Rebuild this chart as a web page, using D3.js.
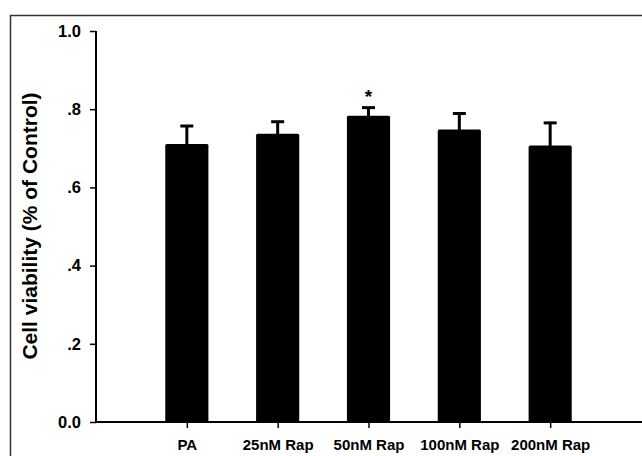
<!DOCTYPE html>
<html>
<head>
<meta charset="utf-8">
<script src="https://cdn.jsdelivr.net/npm/d3@7"></script>
<style>
  body { margin: 0; background: #fff; }
  svg text { font-family: Arial, "Liberation Sans", sans-serif; font-weight: bold; fill: #000; }
</style>
</head>
<body>
<div id="chart"></div>
<script>
// groups, means and error (SEM)
let groups = ["PA", "25nM Rap", "50nM Rap", "100nM Rap", "200nM Rap"];
let means = [0.711, 0.737, 0.783, 0.748, 0.707];
let errors = [0.046, 0.031, 0.021, 0.041, 0.058];
let marks = ["", "", "*", "", ""];
let yTicks = [0, 0.2, 0.4, 0.6, 0.8, 1.0];
let yTickLabels = ["0.0", ".2", ".4", ".6", ".8", "1.0"];

let W = 642, H = 456;
let margin = {top: 31, right: 1, bottom: 34, left: 96};
let width = W - margin.left - margin.right,
    height = H - margin.top - margin.bottom;

let svg = d3.select("#chart")
    .append("svg")
    .attr("width", W)
    .attr("height", H);

// frame around the figure (right and bottom run off the picture)
svg.append("rect")
    .attr("x", 10.5)
    .attr("y", 15.5)
    .attr("width", W + 20)
    .attr("height", H + 20)
    .attr("fill", "none")
    .attr("stroke", "#333")
    .attr("stroke-width", 1.5);

let g = svg.append("g")
    .attr("transform", "translate(" + margin.left + "," + margin.top + ")");

// x positions: one empty slot on each side of the groups
let x = d3.scalePoint()
    .domain(groups)
    .range([0, width])
    .padding(1);
let barW = x.step() * 0.475;

let y = d3.scaleLinear()
    .domain([0, 1])
    .range([height, 0]);

// bars
g.selectAll(".bar")
    .data(groups)
    .enter()
    .append("rect")
    .attr("class", "bar")
    .attr("x", d => x(d) - barW / 2)
    .attr("y", (d, i) => y(means[i]))
    .attr("width", barW)
    .attr("height", (d, i) => height - y(means[i]))
    .attr("rx", 1.5)
    .attr("fill", "#000");

// error bars (upper only)
g.selectAll(".err")
    .data(groups)
    .enter()
    .append("line")
    .attr("x1", d => x(d))
    .attr("x2", d => x(d))
    .attr("y1", (d, i) => y(means[i]) + 2)
    .attr("y2", (d, i) => y(means[i] + errors[i]))
    .attr("stroke", "#000")
    .attr("stroke-width", 3);

g.selectAll(".cap")
    .data(groups)
    .enter()
    .append("line")
    .attr("x1", d => x(d) - 6.5)
    .attr("x2", d => x(d) + 6.5)
    .attr("y1", (d, i) => y(means[i] + errors[i]))
    .attr("y2", (d, i) => y(means[i] + errors[i]))
    .attr("stroke", "#000")
    .attr("stroke-width", 3);

// significance marks
g.selectAll(".sig")
    .data(groups)
    .enter()
    .append("text")
    .attr("x", d => x(d))
    .attr("y", (d, i) => y(means[i] + errors[i]) - 5)
    .attr("text-anchor", "middle")
    .style("font-size", "19px")
    .text((d, i) => marks[i]);

// Y axis
let yAxis = g.append("g")
    .call(d3.axisLeft(y)
        .tickValues(yTicks)
        .tickSize(6)
        .tickPadding(9)
        .tickFormat((d, i) => yTickLabels[i]));
yAxis.select(".domain").attr("stroke", "#000").attr("stroke-width", 2).attr("d", "M0," + height + "V0");
yAxis.selectAll(".tick line").attr("stroke", "#000").attr("stroke-width", 1.5);
yAxis.selectAll(".tick text").style("font-size", "16.5px").style("font-family", "Arial, 'Liberation Sans', sans-serif").style("font-weight", "bold");

// X axis
let xAxis = g.append("g")
    .attr("transform", "translate(0," + height + ")")
    .call(d3.axisBottom(x).tickSize(6).tickPadding(11));
xAxis.select(".domain").attr("stroke", "#000").attr("stroke-width", 2).attr("d", "M0,0H" + (width + 2));
xAxis.selectAll(".tick line").attr("stroke", "#000").attr("stroke-width", 1.5);
xAxis.selectAll(".tick text").style("font-size", "15px").style("font-family", "Arial, 'Liberation Sans', sans-serif").style("font-weight", "bold");

// Y axis label
svg.append("text")
    .attr("transform", "translate(37," + (margin.top + 195) + ") rotate(-90)")
    .attr("text-anchor", "middle")
    .style("font-size", "21px")
    .text("Cell viability (% of Control)");
</script>
</body>
</html>
